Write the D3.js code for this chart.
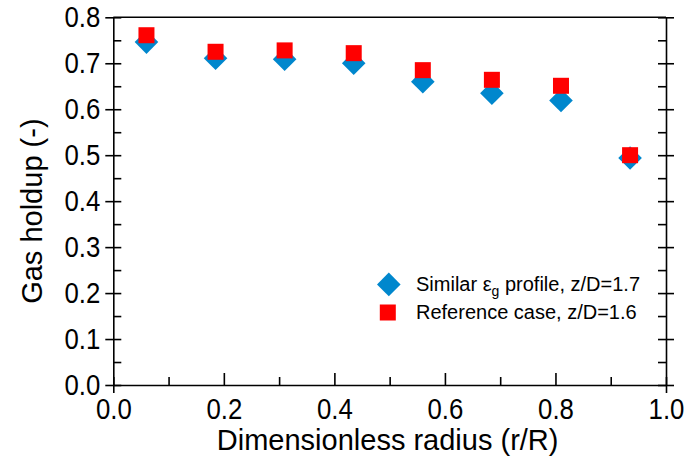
<!DOCTYPE html>
<html>
<head>
<meta charset="utf-8">
<script src="https://cdn.jsdelivr.net/npm/d3@7"></script>
<style>
  body { margin: 0; background: #fff; }
  svg { display: block; }
  .tick text { font-family: 'Liberation Sans', Arial, sans-serif; }
</style>
</head>
<body>
<svg id="chart" width="685" height="463"></svg>
<script>
// radial position r/R and gas holdup of the two cases
const radius = [0.06, 0.185, 0.31, 0.435, 0.56, 0.685, 0.81, 0.935];
const similarHoldup = [0.746, 0.711, 0.709, 0.700, 0.660, 0.635, 0.619, 0.494];
const referenceHoldup = [0.761, 0.725, 0.728, 0.722, 0.685, 0.664, 0.651, 0.500];

const xMajor = [0, 0.2, 0.4, 0.6, 0.8, 1.0];
const xMinor = [0.1, 0.3, 0.5, 0.7, 0.9];
const yMajor = [0, 0.1, 0.2, 0.3, 0.4, 0.5, 0.6, 0.7, 0.8];
const yMinor = [0.05, 0.15, 0.25, 0.35, 0.45, 0.55, 0.65, 0.75];

const legendLabels = ['Similar ', ' profile, z/D=1.7', 'Reference case, z/D=1.6'];

const svg = d3.select('#chart');
const margin = { top: 17.3, right: 19, bottom: 78, left: 113.3 };
const width = +svg.attr('width') - margin.left - margin.right;
const height = +svg.attr('height') - margin.top - margin.bottom;
const g = svg.append('g').attr('transform', `translate(${margin.left},${margin.top})`);

const blue = '#0087cd';
const red = '#ff0000';
const axisWidth = 1.6;
const squeeze = 0.86; // tick labels in the original are a narrow face

const x = d3.scaleLinear().domain([0, 1]).range([0, width]);
const y = d3.scaleLinear().domain([0, 0.8]).range([height, 0]);
const fmt = d3.format('.1f');

function styleAxis(sel)
{
  sel.selectAll('line').attr('stroke', '#000').attr('stroke-width', axisWidth);
  sel.selectAll('path').attr('stroke', '#000').attr('stroke-width', axisWidth);
  sel.selectAll('text')
    .attr('fill', '#000')
    .attr('font-size', '30px')
    .attr('x', function () { return +d3.select(this).attr('x') / squeeze; })
    .attr('transform', `scale(${squeeze},1)`);
}

// left axis
const left = g.append('g')
  .call(d3.axisLeft(y).tickValues(yMajor).tickFormat(fmt).tickSizeInner(8).tickSizeOuter(0).tickPadding(5));
left.selectAll('.tick line').attr('x1', 8);
styleAxis(left);

const leftMinor = g.append('g')
  .call(d3.axisLeft(y).tickValues(yMinor).tickFormat('').tickSize(-8));
leftMinor.select('.domain').remove();
styleAxis(leftMinor);

// right axis
const right = g.append('g')
  .attr('transform', `translate(${width},0)`)
  .call(d3.axisRight(y).tickValues(yMajor).tickFormat('').tickSizeInner(8).tickSizeOuter(0));
right.selectAll('.tick line').attr('x1', -8);
styleAxis(right);

const rightMinor = g.append('g')
  .attr('transform', `translate(${width},0)`)
  .call(d3.axisRight(y).tickValues(yMinor).tickFormat('').tickSize(-8));
rightMinor.select('.domain').remove();
styleAxis(rightMinor);

// bottom axis
const bottom = g.append('g')
  .attr('transform', `translate(0,${height})`)
  .call(d3.axisBottom(x).tickValues(xMajor).tickFormat(fmt).tickSize(-12).tickSizeOuter(0).tickPadding(13));
styleAxis(bottom);
bottom.selectAll('.tick line')
  .filter(d => d === 0 || d === 1)
  .attr('y1', 8)
  .attr('y2', -8);

const bottomMinor = g.append('g')
  .attr('transform', `translate(0,${height})`)
  .call(d3.axisBottom(x).tickValues(xMinor).tickFormat('').tickSize(-8));
bottomMinor.select('.domain').remove();
styleAxis(bottomMinor);

// top frame line
g.append('line')
  .attr('x1', 0)
  .attr('x2', width)
  .attr('y1', 0)
  .attr('y2', 0)
  .attr('stroke', '#000')
  .attr('stroke-width', axisWidth);

// axis titles
svg.append('text')
  .attr('x', margin.left + width / 2 - 2)
  .attr('y', 450)
  .attr('text-anchor', 'middle')
  .attr('font-family', "'Liberation Sans', Arial, sans-serif")
  .attr('font-size', '29px')
  .text('Dimensionless radius (r/R)');

svg.append('text')
  .attr('transform', `translate(42,${margin.top + height / 2 + 10}) rotate(-90)`)
  .attr('text-anchor', 'middle')
  .attr('font-family', "'Liberation Sans', Arial, sans-serif")
  .attr('font-size', '29px')
  .text('Gas holdup (-)');

// markers
const diamond = r => `M0,${-r}L${r},0L0,${r}L${-r},0Z`;
const side = 16;

g.selectAll('.similar')
  .data(radius.map((r, i) => ({ r, v: similarHoldup[i] })))
  .enter()
  .append('path')
  .attr('class', 'similar')
  .attr('transform', d => `translate(${x(d.r)},${y(d.v)})`)
  .attr('d', diamond(11.8))
  .attr('fill', blue);

g.selectAll('.reference')
  .data(radius.map((r, i) => ({ r, v: referenceHoldup[i] })))
  .enter()
  .append('rect')
  .attr('class', 'reference')
  .attr('x', d => x(d.r) - side / 2)
  .attr('y', d => y(d.v) - side / 2)
  .attr('width', side)
  .attr('height', side)
  .attr('fill', red);

// legend
const legend = svg.append('g')
  .attr('font-family', "'Liberation Sans', Arial, sans-serif")
  .attr('font-size', '20px');

legend.append('path')
  .attr('transform', 'translate(388.8,284.4)')
  .attr('d', diamond(11.8))
  .attr('fill', blue);

const t1 = legend.append('text').attr('x', 416).attr('y', 291);
t1.append('tspan').text(legendLabels[0]);
t1.append('tspan').text('\u03b5');
t1.append('tspan').attr('font-size', '14px').attr('dy', 5).text('g');
t1.append('tspan').attr('dy', -5).text(legendLabels[1]);

legend.append('rect')
  .attr('x', 387.8 - side / 2)
  .attr('y', 312.5 - side / 2)
  .attr('width', side)
  .attr('height', side)
  .attr('fill', red);

legend.append('text')
  .attr('x', 416)
  .attr('y', 319)
  .text(legendLabels[2]);
</script>
</body>
</html>
